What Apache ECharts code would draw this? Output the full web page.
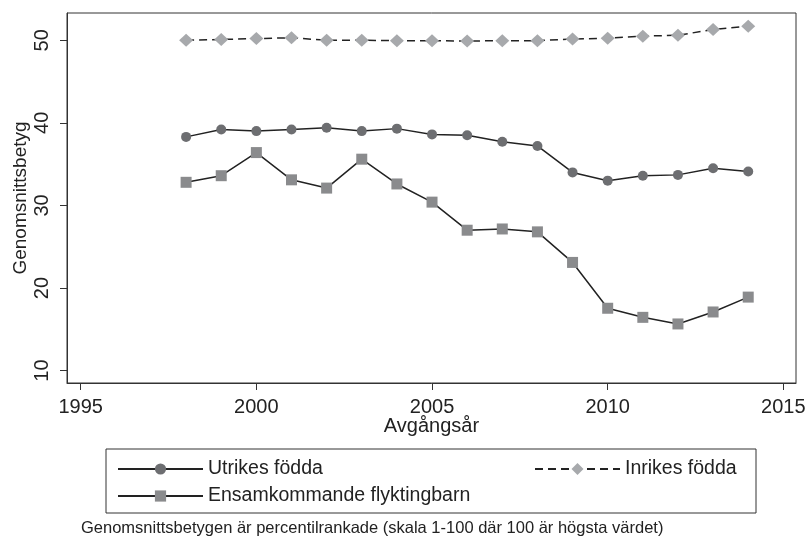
<!DOCTYPE html>
<html>
<head>
<meta charset="utf-8">
<script src="https://cdn.jsdelivr.net/npm/echarts@6/dist/echarts.min.js"></script>
<style>
  html, body { margin: 0; padding: 0; background: #fff; }
  #chart { width: 809px; height: 538px; }
</style>
</head>
<body>
<div id="chart"></div>
<script>
var years = [1998, 1999, 2000, 2001, 2002, 2003, 2004, 2005, 2006, 2007, 2008, 2009, 2010, 2011, 2012, 2013, 2014]
var utrikes = [38.3, 39.2, 39.0, 39.2, 39.4, 39.0, 39.3, 38.6, 38.5, 37.7, 37.2, 34.0, 33.0, 33.6, 33.7, 34.5, 34.1]
var inrikes = [50.0, 50.1, 50.2, 50.3, 50.0, 50.0, 49.95, 49.95, 49.9, 49.95, 49.95, 50.15, 50.25, 50.5, 50.6, 51.3, 51.7]
var ensam = [32.8, 33.6, 36.4, 33.1, 32.1, 35.6, 32.6, 30.4, 27.0, 27.15, 26.8, 23.1, 17.55, 16.45, 15.65, 17.1, 18.9]
var xTicks = [1995, 2000, 2005, 2010, 2015]
var yTicks = [10, 20, 30, 40, 50]

function pairs(vals) {
  return years.map(function (y, i) { return [y, vals[i]] })
}

var font = 'Liberation Sans, Arial, sans-serif'
var chart = echarts.init(document.getElementById('chart'))
var option = {
  animation: false,
  grid: {
    left: 67,
    right: 13,
    top: 13,
    bottom: 155,
    outerBoundsMode: 'none',
    show: true,
    borderColor: '#333',
    borderWidth: 1
  },
  xAxis: {
    type: 'value',
    min: 1994.61,
    max: 2015.36,
    name: 'Avgångsår',
    nameLocation: 'middle',
    nameGap: 33,
    nameMoveOverlap: false,
    nameTextStyle: { color: '#222', fontSize: 20, fontFamily: font },
    axisLine: { show: true, onZero: false, lineStyle: { color: '#333', width: 1 } },
    axisTick: { show: true, length: 7, customValues: xTicks, lineStyle: { color: '#333' } },
    axisLabel: {
      customValues: xTicks,
      formatter: function (v) { return String(v) },
      color: '#222', fontSize: 20, fontFamily: font, margin: 14
    },
    splitLine: { show: false }
  },
  yAxis: {
    type: 'value',
    min: 8.5,
    max: 53.3,
    name: 'Genomsnittsbetyg',
    nameLocation: 'middle',
    nameGap: 37,
    nameMoveOverlap: false,
    nameTextStyle: { color: '#222', fontSize: 19, fontFamily: font },
    axisLine: { show: true, lineStyle: { color: '#333', width: 1 } },
    axisTick: { show: true, length: 7, customValues: yTicks, lineStyle: { color: '#333' } },
    axisLabel: { customValues: yTicks, rotate: 90, color: '#222', fontSize: 20, fontFamily: font, margin: 15 },
    splitLine: { show: false }
  },
  legend: [
    {
      data: ['Utrikes födda', 'Ensamkommande flyktingbarn'],
      orient: 'vertical',
      left: 117,
      top: 459,
      padding: 0,
      itemWidth: 85,
      itemHeight: 14,
      itemGap: 7,
      textStyle: { color: '#222', fontSize: 19.5, fontFamily: font }
    },
    {
      data: ['Inrikes födda'],
      orient: 'vertical',
      left: 534,
      top: 459,
      padding: 0,
      itemWidth: 85,
      itemHeight: 15,
      textStyle: { color: '#222', fontSize: 19.5, fontFamily: font }
    }
  ],
  graphic: [
    {
      type: 'rect',
      shape: { x: 106, y: 449, width: 650, height: 64 },
      style: { fill: 'none', stroke: '#333', lineWidth: 1 }
    },
    {
      type: 'text',
      left: 81,
      top: 520,
      style: {
        text: 'Genomsnittsbetygen är percentilrankade (skala 1-100 där 100 är högsta värdet)',
        fill: '#222',
        font: '16.5px ' + font
      }
    }
  ],
  series: [
    {
      name: 'Utrikes födda',
      type: 'line',
      data: pairs(utrikes),
      symbol: 'circle',
      symbolSize: 10,
      itemStyle: { color: '#6d6e71' },
      lineStyle: { color: '#222', width: 1.5 }
    },
    {
      name: 'Inrikes födda',
      type: 'line',
      data: pairs(inrikes),
      symbol: 'diamond',
      symbolSize: [14, 13],
      itemStyle: { color: '#a7a9ac' },
      lineStyle: { color: '#222', width: 1.5, type: [8, 5] }
    },
    {
      name: 'Ensamkommande flyktingbarn',
      type: 'line',
      data: pairs(ensam),
      symbol: 'rect',
      symbolSize: 11,
      itemStyle: { color: '#8a8b8d' },
      lineStyle: { color: '#222', width: 1.5 }
    }
  ]
}
chart.setOption(option)
</script>
</body>
</html>
